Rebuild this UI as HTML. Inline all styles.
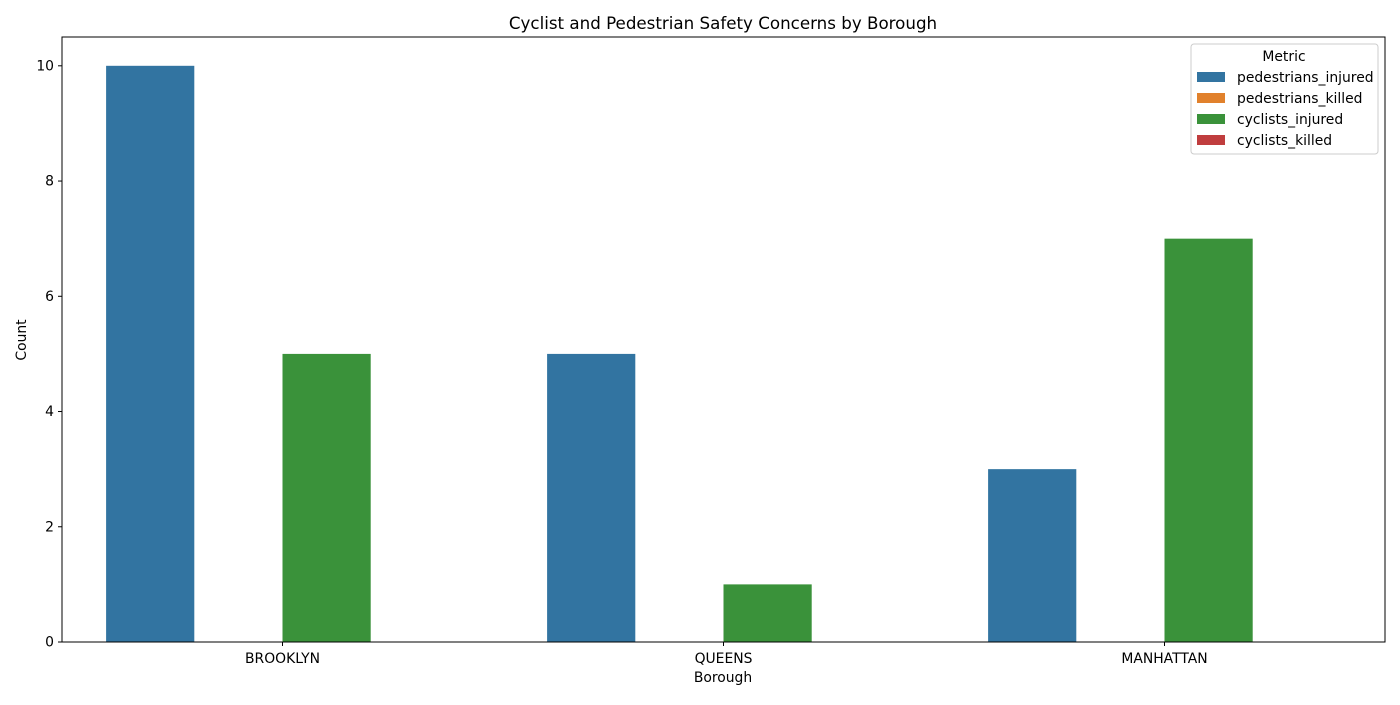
<!DOCTYPE html>
<html><head><meta charset="utf-8"><style>
body{margin:0;background:#fff;}
svg{font-family:"DejaVu Sans","Liberation Sans",sans-serif;}
</style></head><body>
<svg id="chart" width="1400" height="700" xmlns="http://www.w3.org/2000/svg">
<rect width="1400" height="700" fill="#fff"/>
<text x="723" y="29" text-anchor="middle" font-size="16.7">Cyclist and Pedestrian Safety Concerns by Borough</text>
<g id="plot"></g>
<text x="723" y="682" text-anchor="middle" font-size="13.9">Borough</text>
<text transform="translate(26,340) rotate(-90)" text-anchor="middle" font-size="13.9">Count</text>
</svg>
<script>
const categories = ["BROOKLYN","QUEENS","MANHATTAN"];
const seriesNames = ["pedestrians_injured","pedestrians_killed","cyclists_injured","cyclists_killed"];
const pedestriansInjured = [10,5,3];
const pedestriansKilled = [0,0,0];
const cyclistsInjured = [5,1,7];
const cyclistsKilled = [0,0,0];
const yTicks = [0,2,4,6,8,10];
const colors = ["#3274a1","#e1812c","#3a923a","#c03d3e"];
const series = [pedestriansInjured,pedestriansKilled,cyclistsInjured,cyclistsKilled];

const NS="http://www.w3.org/2000/svg";
const L=62,R=1385,T=37,B=642,yMax=10.5;
const g=document.getElementById('plot');
function y(v){return B-(v/yMax)*(B-T);}
const bw=(R-L)/categories.length;
function x(i){return L+bw*i+bw/2;}
function el(t,a){const e=document.createElementNS(NS,t);for(const k in a)e.setAttribute(k,a[k]);g.appendChild(e);return e;}
const barW=bw*0.8/series.length;
series.forEach((s,si)=>{
  s.forEach((v,ci)=>{
    const x0=x(ci)-bw*0.4+si*barW;
    const r=el('rect',{x:x0,y:y(v),width:barW,height:Math.max(0,B-y(v)),fill:colors[si]});
    
    
  });
});
yTicks.forEach(t=>{
  const l=el('line',{x1:L-4,x2:L,y1:y(t),y2:y(t),stroke:'#000'});
  
  
  const tx=el('text',{x:L-8,y:y(t)+4.5,'text-anchor':'end','font-size':'13.9'});
  tx.textContent=t;
  
  
});
categories.forEach((c,i)=>{
  const l=el('line',{x1:x(i),x2:x(i),y1:B,y2:B+4,stroke:'#000'});
  
  
  const tx=el('text',{x:x(i),y:B+21,'text-anchor':'middle','font-size':'13.9'});
  tx.textContent=c;
  
  
});
const frame=el('rect',{x:L,y:T,width:R-L,height:B-T,fill:'none',stroke:'#000','stroke-width':1});


const lg=el('rect',{x:1191,y:44,width:187,height:110,rx:3,fill:'#fff','fill-opacity':0.8,stroke:'#ccc'});


const lt=el('text',{x:1284,y:61,'text-anchor':'middle','font-size':'13.9'});
lt.textContent='Metric';


seriesNames.forEach((n,i)=>{
  const yy=77+i*21;
  const p=el('rect',{x:1197,y:yy-5,width:28,height:10,fill:colors[i]});
  
  
  const t=el('text',{x:1237,y:yy+5,'font-size':'13.9'});
  t.textContent=n;
  
  
});
</script>
</body></html>
